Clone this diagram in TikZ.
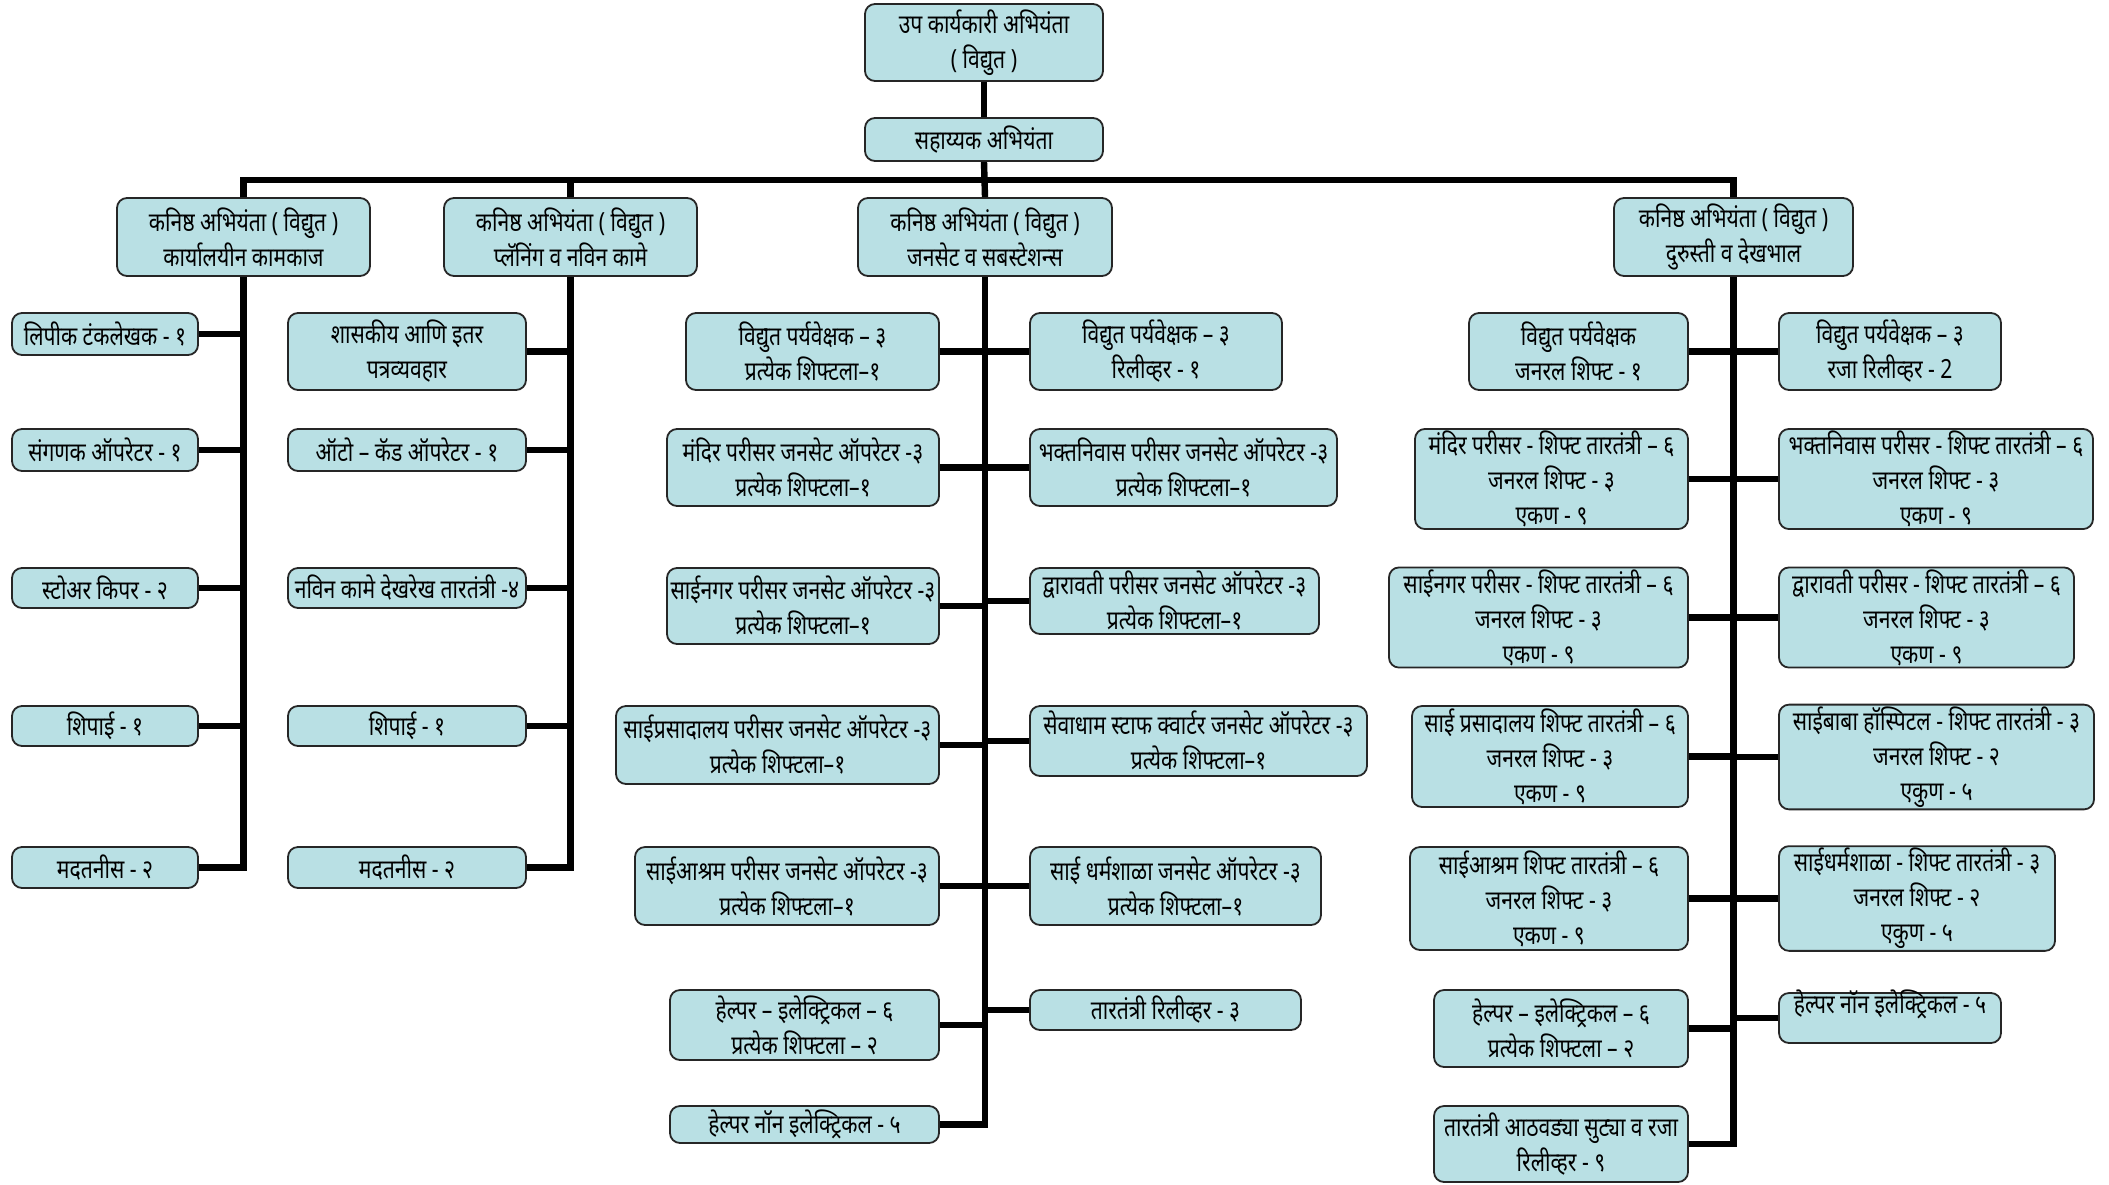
\documentclass[tikz,border=0pt]{standalone}
\usepackage{fontspec}
\setmainfont[Script=Devanagari,FakeStretch=0.8]{Noto Sans}
\definecolor{boxblue}{RGB}{185,224,228}

\begin{document}
\begin{tikzpicture}[x=0.5pt,y=-0.5pt,
		post/.style={draw=black!85,fill=boxblue,line width=0.9pt,rounded corners=5pt,
			align=center,inner sep=1pt,font=\fontsize{13.2}{17.5}\selectfont},
		bw/.style={minimum width=#1*0.5pt},
		bh/.style={minimum height=#1*0.5pt},
		link/.style={line width=3.2pt,black},
	]
	\useasboundingbox (0,0) rectangle (2109,1184);

	% top of the chart
	\node[post,bw=238,bh=77] (dee) at (984,42.5) {उप कार्यकारी अभियंता\\( विद्युत )};
	\node[post,bw=238,bh=43] (ae) at (984,139.5) {सहाय्यक अभियंता};
	\node[post,bw=253,bh=78] (office) at (243.5,237) {कनिष्ठ अभियंता ( विद्युत )\\कार्यालयीन कामकाज};
	\node[post,bw=253,bh=78] (plan) at (570.5,237) {कनिष्ठ अभियंता ( विद्युत )\\प्लॅनिंग व नविन कामे};
	\node[post,bw=254,bh=78] (genset) at (985,237) {कनिष्ठ अभियंता ( विद्युत )\\जनसेट व सबस्टेशन्स};
	\node[post,bw=239,bh=78] (maint) at (1733.5,237) {कनिष्ठ अभियंता ( विद्युत )\\दुरुस्ती व देखभाल};
	\coordinate (bus) at (984,180);

	% karyalayin kamkaj
	\node[post,bw=186,bh=42] (o1) at (105,334) {लिपीक टंकलेखक - १};
	\node[post,bw=186,bh=42] (o2) at (105,450) {संगणक ऑपरेटर - १};
	\node[post,bw=186,bh=40] (o3) at (105,588) {स्टोअर किपर - २};
	\node[post,bw=186,bh=40] (o4) at (105,726) {शिपाई - १};
	\node[post,bw=186,bh=41] (o5) at (105,867.5) {मदतनीस - २};

	% planning
	\node[post,bw=238,bh=77] (p1) at (407,351.5) {शासकीय आणि इतर\\पत्रव्यवहार};
	\node[post,bw=238,bh=42] (p2) at (407,450) {ऑटो – कॅड ऑपरेटर - १};
	\node[post,bw=238,bh=40] (p3) at (407,588) {नविन कामे देखरेख तारतंत्री -४};
	\node[post,bw=238,bh=40] (p4) at (407,726) {शिपाई - १};
	\node[post,bw=238,bh=41] (p5) at (407,867.5) {मदतनीस - २};

	% genset, left side
	\node[post,bw=253,bh=77] (g1) at (812.5,351.5) {विद्युत पर्यवेक्षक – ३\\प्रत्येक शिफ्टला–१};
	\node[post,bw=272,bh=77] (g2) at (803,467.5) {मंदिर परीसर जनसेट ऑपरेटर -३\\प्रत्येक शिफ्टला–१};
	\node[post,bw=272,bh=76] (g3) at (803,606) {साईनगर परीसर जनसेट ऑपरेटर -३\\प्रत्येक शिफ्टला–१};
	\node[post,bw=323,bh=78] (g4) at (777.5,745) {साईप्रसादालय परीसर जनसेट ऑपरेटर -३\\प्रत्येक शिफ्टला–१};
	\node[post,bw=304,bh=78] (g5) at (787,886) {साईआश्रम परीसर जनसेट ऑपरेटर -३\\प्रत्येक शिफ्टला–१};
	\node[post,bw=269,bh=70] (g6) at (804.5,1025) {हेल्पर – इलेक्ट्रिकल – ६\\प्रत्येक शिफ्टला – २};
	\node[post,bw=269,bh=37] (g7) at (804.5,1124.5) {हेल्पर नॉन इलेक्ट्रिकल - ५};

	% genset, right side
	\node[post,bw=252,bh=77] (s1) at (1156,351.5) {विद्युत पर्यवेक्षक – ३\\रिलीव्हर - १};
	\node[post,bw=307,bh=77] (s2) at (1183.5,467.5) {भक्तनिवास परीसर जनसेट ऑपरेटर -३\\प्रत्येक शिफ्टला–१};
	\node[post,bw=289,bh=66] (s3) at (1174.5,601) {द्वारावती परीसर जनसेट ऑपरेटर -३\\प्रत्येक शिफ्टला–१};
	\node[post,bw=337,bh=70] (s4) at (1198.5,741) {सेवाधाम स्टाफ क्वार्टर जनसेट ऑपरेटर -३\\प्रत्येक शिफ्टला–१};
	\node[post,bw=291,bh=78] (s5) at (1175.5,886) {साई धर्मशाळा जनसेट ऑपरेटर -३\\प्रत्येक शिफ्टला–१};
	\node[post,bw=271,bh=40] (s6) at (1165.5,1010) {तारतंत्री रिलीव्हर - ३};

	% maintenance, left side
	\node[post,bw=219,bh=77] (m1) at (1578.5,351.5) {विद्युत पर्यवेक्षक\\जनरल शिफ्ट - १};
	\node[post,bw=273,bh=100] (m2) at (1551.5,479) {मंदिर परीसर - शिफ्ट तारतंत्री – ६\\जनरल शिफ्ट - ३\\एकण - ९};
	\node[post,bw=299,bh=99] (m3) at (1538.5,617.5) {साईनगर परीसर - शिफ्ट तारतंत्री – ६\\जनरल शिफ्ट - ३\\एकण - ९};
	\node[post,bw=276,bh=101] (m4) at (1550,756.5) {साई प्रसादालय शिफ्ट तारतंत्री – ६\\जनरल शिफ्ट - ३\\एकण - ९};
	\node[post,bw=278,bh=103] (m5) at (1549,898.5) {साईआश्रम शिफ्ट तारतंत्री – ६\\जनरल शिफ्ट - ३\\एकण - ९};
	\node[post,bw=254,bh=77] (m6) at (1561,1028.5) {हेल्पर – इलेक्ट्रिकल – ६\\प्रत्येक शिफ्टला – २};
	\node[post,bw=254,bh=76] (m7) at (1561,1144) {तारतंत्री आठवड्या सुट्या व रजा\\रिलीव्हर - ९};

	% maintenance, right side
	\node[post,bw=222,bh=77] (n1) at (1890,351.5) {विद्युत पर्यवेक्षक – ३\\रजा रिलीव्हर - 2};
	\node[post,bw=314,bh=100] (n2) at (1936,479) {भक्तनिवास परीसर - शिफ्ट तारतंत्री – ६\\जनरल शिफ्ट - ३\\एकण - ९};
	\node[post,bw=295,bh=99] (n3) at (1926.5,617.5) {द्वारावती परीसर - शिफ्ट तारतंत्री – ६\\जनरल शिफ्ट - ३\\एकण - ९};
	\node[post,bw=315,bh=102] (n4) at (1936.5,757) {साईबाबा हॉस्पिटल - शिफ्ट तारतंत्री - ३\\जनरल शिफ्ट - २\\एकुण - ५};
	\node[post,bw=276,bh=103] (n5) at (1917,898.5) {साईधर्मशाळा - शिफ्ट तारतंत्री - ३\\जनरल शिफ्ट - २\\एकुण - ५};
	\node[post,bw=222,text height=9pt,text depth=14pt] (n6) at (1890,1018) {हेल्पर नॉन इलेक्ट्रिकल - ५};

	% lines
	\draw[link] (dee.south) -- (ae.north);
	\draw[link] (ae.south) -- (genset.north);
	\draw[link] (office.north) -- (office.north |- bus) -- (maint.north |- bus) -- (maint.north);
	\draw[link] (plan.north) -- (plan.north |- bus);

	\draw[link] (office.south) -- (office.south |- o5.east) -- (o5.east);
	\draw[link] (o1.east) -- (o1.east -| office.south) (o2.east) -- (o2.east -| office.south)
		(o3.east) -- (o3.east -| office.south) (o4.east) -- (o4.east -| office.south);

	\draw[link] (plan.south) -- (plan.south |- p5.east) -- (p5.east);
	\draw[link] (p1.east) -- (p1.east -| plan.south) (p2.east) -- (p2.east -| plan.south)
		(p3.east) -- (p3.east -| plan.south) (p4.east) -- (p4.east -| plan.south);

	\draw[link] (genset.south) -- (genset.south |- g7.east) -- (g7.east);
	\draw[link] (g1.east) -- (g1.east -| genset.south) (g2.east) -- (g2.east -| genset.south)
		(g3.east) -- (g3.east -| genset.south) (g4.east) -- (g4.east -| genset.south)
		(g5.east) -- (g5.east -| genset.south) (g6.east) -- (g6.east -| genset.south);
	\draw[link] (s1.west) -- (s1.west -| genset.south) (s2.west) -- (s2.west -| genset.south)
		(s3.west) -- (s3.west -| genset.south) (s4.west) -- (s4.west -| genset.south)
		(s5.west) -- (s5.west -| genset.south) (s6.west) -- (s6.west -| genset.south);

	\draw[link] (maint.south) -- (maint.south |- m7.east) -- (m7.east);
	\draw[link] (m1.east) -- (m1.east -| maint.south) (m2.east) -- (m2.east -| maint.south)
		(m3.east) -- (m3.east -| maint.south) (m4.east) -- (m4.east -| maint.south)
		(m5.east) -- (m5.east -| maint.south) (m6.east) -- (m6.east -| maint.south);
	\draw[link] (n1.west) -- (n1.west -| maint.south) (n2.west) -- (n2.west -| maint.south)
		(n3.west) -- (n3.west -| maint.south) (n4.west) -- (n4.west -| maint.south)
		(n5.west) -- (n5.west -| maint.south) (n6.west) -- (n6.west -| maint.south);
\end{tikzpicture}
\end{document}
